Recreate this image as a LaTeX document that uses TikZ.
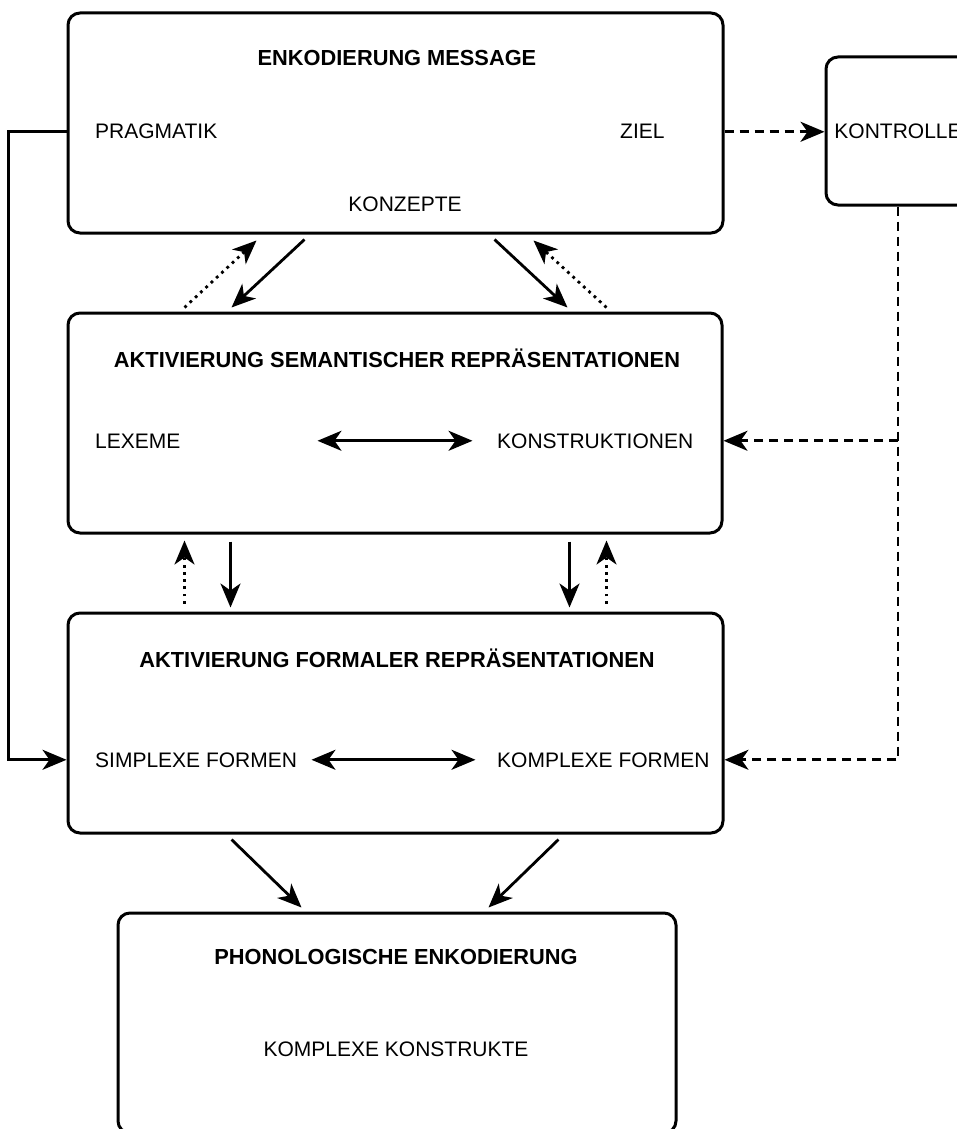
\documentclass[tikz,border=0pt]{standalone}
\usepackage{fontspec}
\setmainfont{Liberation Sans}
\usetikzlibrary{arrows.meta,calc}

\tikzset{
  flowhead/.tip={Stealth[length=24pt,width=20pt,inset=7pt]},
  box/.style={draw, line width=3pt, rounded corners=12pt, inner sep=0pt},
  label/.style={inner sep=0pt, font=\fontsize{21}{25}\selectfont},
  title/.style={label, font=\fontsize{21.8}{25}\selectfont\bfseries},
  tip/.style={-flowhead},
  flow/.style={tip, line width=2.8pt},
  both/.style={flowhead-flowhead, line width=2.8pt},
  feedback/.style={tip, line width=2.8pt, dash pattern=on 2.8pt off 4.4pt},
  control/.style={tip, line width=2.8pt, dash pattern=on 9pt off 6pt},
}

\begin{document}
\begin{tikzpicture}[x=1pt, y=-1pt]
  \useasboundingbox (0,0) rectangle (957,1129);
  \clip (0,0) rectangle (957,1129);

  % boxes
  \node[box, minimum width=655pt, minimum height=220pt] (b1) at (395.5,123) {};
  \node[box, minimum width=144pt, minimum height=148pt] (kon) at (898,131) {};
  \node[box, minimum width=654pt, minimum height=220pt] (b2) at (395,423) {};
  \node[box, minimum width=655pt, minimum height=220pt] (b3) at (395.5,723) {};
  \node[box, minimum width=558pt, minimum height=220pt] (b4) at (397,1023) {};

  % texts: message encoding
  \node[title, anchor=base] (t1) at (397,66) {ENKODIERUNG MESSAGE};
  \node[label, anchor=base west] (prag) at (95,139) {PRAGMATIK};
  \node[label, anchor=base west] (ziel) at (620,139) {ZIEL};
  \node[label, anchor=base] (konz) at (405,211) {KONZEPTE};
  \node[label, anchor=base] (kontr) at (898,139) {KONTROLLE};

  % texts: semantic representations
  \node[title, anchor=base] (t2) at (397,367) {AKTIVIERUNG SEMANTISCHER REPRÄSENTATIONEN};
  \node[label, anchor=base west] (lex) at (95,448) {LEXEME};
  \node[label, anchor=base west] (kstr) at (497,448) {KONSTRUKTIONEN};

  % texts: formal representations
  \node[title, anchor=base] (t3) at (397,667) {AKTIVIERUNG FORMALER REPRÄSENTATIONEN};
  \node[label, anchor=base west] (sform) at (95,767) {SIMPLEXE FORMEN};
  \node[label, anchor=base west] (kform) at (497,767) {KOMPLEXE FORMEN};

  % texts: phonological encoding
  \node[title, anchor=base] (t4) at (396,964) {PHONOLOGISCHE ENKODIERUNG};
  \node[label, anchor=base] (kk) at (396,1056) {KOMPLEXE KONSTRUKTE};

  % message <-> semantic
  \draw[feedback] ($(b2.north west)+(118,-4)$) -- ($(b1.south west)+(190,6)$);
  \draw[flow] ($(b1.south west)+(238,5)$) -- ($(b2.north west)+(165,-4)$);
  \draw[flow] ($(b1.south west)+(428,5)$) -- ($(b2.north west)+(501,-4)$);
  \draw[feedback] ($(b2.north west)+(540,-4)$) -- ($(b1.south west)+(467,6)$);

  % semantic <-> formal
  \draw[feedback] ($(b3.north west)+(118,-8)$) -- ($(b2.south west)+(118,6)$);
  \draw[flow] ($(b2.south west)+(164,7)$) -- ($(b3.north west)+(164,-4)$);
  \draw[flow] ($(b2.south west)+(503,7)$) -- ($(b3.north west)+(503,-4)$);
  \draw[feedback] ($(b3.north west)+(540,-8)$) -- ($(b2.south west)+(540,6)$);

  % formal -> phonological
  \draw[flow] ($(b3.south west)+(165,5)$) -- ($(b4.north west)+(185,-4)$);
  \draw[flow] ($(b3.south west)+(492,5)$) -- ($(b4.north west)+(372,-4)$);

  % inner links
  \draw[both] ($(b2.center |- kstr)+(-77.5,0)$) -- ($(b2.center |- kstr)+(77.5,0)$);
  \draw[both] ($(b3.center |- kform)+(-84,0)$) -- ($(b3.center |- kform)+(80,0)$);

  % pragmatic bypass
  \draw[tip, line width=2.8pt] (b1.west |- prag) -- ++(-58,0) |- (b3.west |- sform);

  % control loop
  \draw[control] (b1.east |- ziel) -- (kon.west |- ziel);
  \draw[control] (kon.south) |- (b3.east |- kform);
  \draw[control] (kon.south |- kstr) -- (b2.east |- kstr);
\end{tikzpicture}
\end{document}
